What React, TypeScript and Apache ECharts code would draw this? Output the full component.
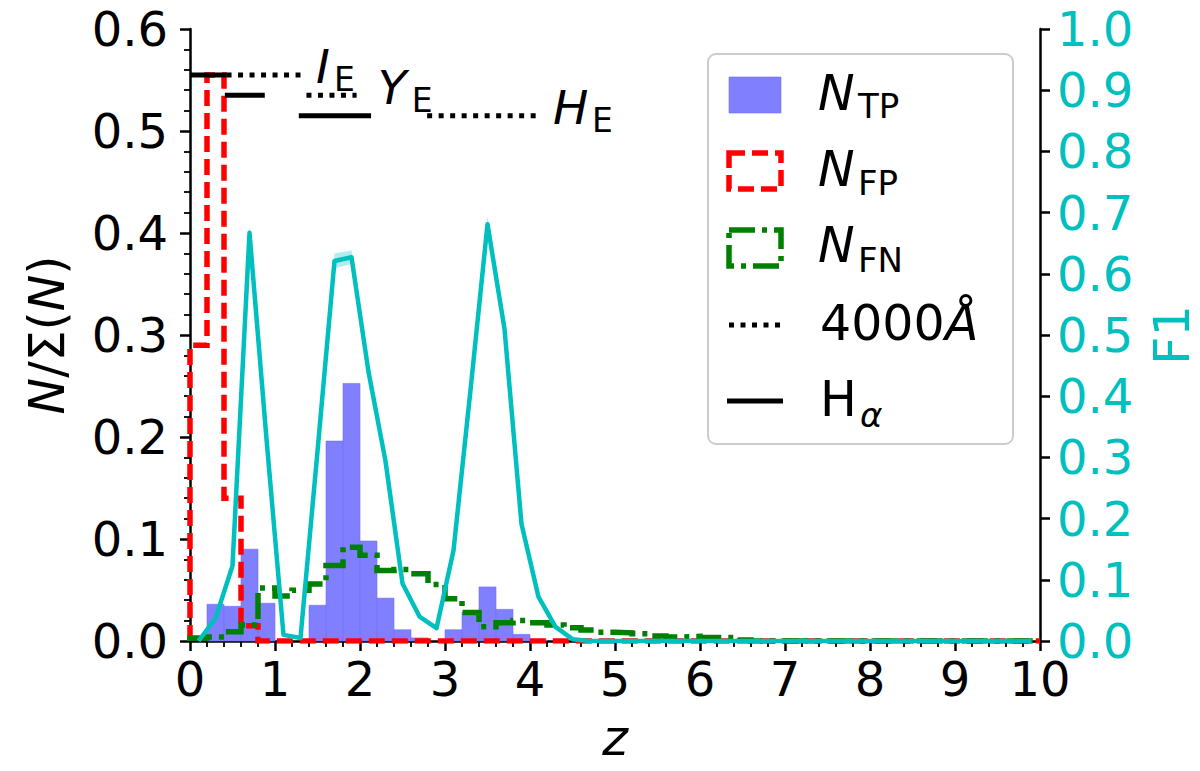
import React, { useEffect, useRef } from "react";
import * as echarts from "echarts";

const FONT = '"DejaVu Sans", sans-serif';

// histogram bins of width 0.2 in z, from 0 to 10
const BIN_WIDTH = 0.2;

const nTP = [
  0, 0.036, 0.034, 0.09, 0.037, 0, 0, 0.035, 0.196, 0.2525,
  0.098, 0.042, 0.011, 0.003, 0, 0.011, 0.028, 0.053, 0.031, 0.0065,
  0.001, 0, 0, 0, 0, 0, 0, 0, 0, 0,
  0, 0, 0, 0, 0, 0, 0, 0, 0, 0,
  0, 0, 0, 0, 0, 0, 0, 0, 0, 0,
];

const nFP = [
  0.29, 0.555, 0.14, 0.015, 0, 0, 0, 0, 0, 0,
  0, 0, 0, 0, 0, 0, 0, 0, 0, 0,
  0, 0, 0, 0, 0, 0, 0, 0, 0, 0,
  0, 0, 0, 0, 0, 0, 0, 0, 0, 0,
  0, 0, 0, 0, 0, 0, 0, 0, 0, 0,
];

const nFN = [
  0.003, 0.004, 0.009, 0.0156, 0.052, 0.044, 0.0497, 0.056, 0.074, 0.092,
  0.084, 0.069, 0.07, 0.066, 0.0555, 0.0415, 0.028, 0.014, 0.018, 0.02,
  0.018, 0.0156, 0.013, 0.0107, 0.0085, 0.008, 0.007, 0.005, 0.004, 0.0045,
  0.0035, 0.0035, 0.001, 0, 0, 0, 0, 0, 0, 0,
  0, 0, 0, 0, 0, 0, 0, 0, 0, 0,
];

// F1 score at bin centres (right axis)
const f1Score = [
  0, 0.037, 0.123, 0.667, 0.33, 0.01, 0.005, 0.31, 0.621, 0.627,
  0.44, 0.294, 0.094, 0.04, 0.021, 0.148, 0.41, 0.681, 0.51, 0.191,
  0.072, 0.023, 0.003, 0, 0, 0, 0, 0, 0, 0,
  0, 0, 0, 0, 0, 0, 0, 0, 0, 0,
  0, 0, 0, 0, 0, 0, 0, 0, 0, 0,
];
const f1Err = [
  0.002, 0.003, 0.004, 0.013, 0.006, 0.002, 0.002, 0.006, 0.012, 0.011,
  0.006, 0.005, 0.003, 0.002, 0.002, 0.004, 0.007, 0.013, 0.007, 0.004,
  0.002, 0.001, 0.001, 0, 0, 0, 0, 0, 0, 0,
  0, 0, 0, 0, 0, 0, 0, 0, 0, 0,
  0, 0, 0, 0, 0, 0, 0, 0, 0, 0,
];

// Euclid bands: redshift ranges of H-alpha and of the 4000 Å break
const bandLabels = ["I", "Y", "H"];
const lineLevel = [0.555, 0.535, 0.515];
const haStart = [0.0, 0.41, 1.28];
const haEnd = [0.43, 0.88, 2.13];
const d4kStart = [0.43, 1.37, 2.79];
const d4kEnd = [1.3, 1.96, 4.08];
const labelZ = [1.482, 2.21, 4.27];

const xTicks = [0, 1, 2, 3, 4, 5, 6, 7, 8, 9, 10];

const CYAN = "#00bfbf";
const RED_DASH = [16, 7];
const GREEN_DASH = [26, 7, 5, 7];
const DOT_DASH = [5, 6.5];

function stepPoints(vals: number[]) {
  const pts: number[][] = [[0, 0]];
  vals.forEach((v, i) => {
    pts.push([+(i * BIN_WIDTH).toFixed(2), v]);
    pts.push([+((i + 1) * BIN_WIDTH).toFixed(2), v]);
  });
  pts.push([+(vals.length * BIN_WIDTH).toFixed(2), 0]);
  return pts;
}

function txt(
  text: string,
  x: number,
  y: number,
  size: number,
  italic: boolean,
  fill = "#000",
  align = "left",
  extra: any = {}
) {
  return {
    type: "text",
    x,
    y,
    z: 100,
    ...extra,
    style: {
      text,
      fontSize: size,
      fontFamily: FONT,
      fontStyle: italic ? "italic" : "normal",
      fill,
      align,
      verticalAlign: "middle",
      textAlign: align,
      textVerticalAlign: "middle",
    },
  };
}

export default function App() {
  const ref = useRef<HTMLDivElement>(null);

  useEffect(() => {
    if (!ref.current) return;
    const chart = echarts.init(ref.current, null, { renderer: "svg" });

    const tpData = nTP
      .map((v, i) => [+(i * BIN_WIDTH).toFixed(2), +((i + 1) * BIN_WIDTH).toFixed(2), v])
      .filter((d) => d[2] > 0);
    const f1Data = f1Score.map((v, i) => [+((i + 0.5) * BIN_WIDTH).toFixed(2), v]);
    const haData = haStart.map((s, i) => [s, haEnd[i], lineLevel[i], 0]);
    const d4kData = d4kStart.map((s, i) => [s, d4kEnd[i], lineLevel[i], 1]);
    const labelData = labelZ.map((z, i) => [z, lineLevel[i], i]);
    const subOffset = [18, 34, 39];

    const axisCommon = {
      axisLine: { show: true, onZero: false, lineStyle: { color: "#000", width: 2.5 } },
      axisTick: { show: true, length: 10, lineStyle: { color: "#000", width: 2.5 } },
      splitLine: { show: false },
    };

    const option: any = {
      animation: false,
      grid: { left: 190, right: 160, top: 29, bottom: 130, outerBoundsMode: "none" },
      xAxis: {
        type: "value",
        min: 0,
        max: 10,
        interval: 1,
        ...axisCommon,
        minorTick: { show: true, splitNumber: 5, length: 6, lineStyle: { color: "#000", width: 1.8 } },
        axisLabel: {
          fontSize: 48,
          lineHeight: 44,
          fontFamily: FONT,
          color: "#000",
          margin: 16,
          formatter: (v: number) => (xTicks.indexOf(v) >= 0 ? String(v) : ""),
        },
      },
      yAxis: [
        {
          type: "value",
          position: "left",
          min: 0,
          max: 0.6,
          interval: 0.1,
          ...axisCommon,
          minorTick: { show: true, splitNumber: 5, length: 6, lineStyle: { color: "#000", width: 1.8 } },
          axisLabel: {
            fontSize: 48,
            lineHeight: 44,
            fontFamily: FONT,
            color: "#000",
            margin: 22,
            formatter: (v: number) => v.toFixed(1),
          },
        },
        {
          type: "value",
          position: "right",
          min: 0,
          max: 1,
          interval: 0.1,
          ...axisCommon,
          minorTick: { show: false },
          axisLabel: {
            fontSize: 48,
            lineHeight: 44,
            fontFamily: FONT,
            color: CYAN,
            margin: 17,
            formatter: (v: number) => v.toFixed(1),
          },
        },
      ],
      series: [
        {
          name: "N_TP",
          type: "custom",
          yAxisIndex: 0,
          z: 2,
          encode: { x: [0, 1], y: 2 },
          data: tpData,
          renderItem: (params: any, api: any) => {
            const p0 = api.coord([api.value(0), api.value(2)]);
            const p1 = api.coord([api.value(1), 0]);
            return {
              type: "rect",
              shape: { x: p0[0], y: p0[1], width: p1[0] - p0[0], height: p1[1] - p0[1] },
              style: { fill: "#8080ff", stroke: "rgba(110,110,255,0.6)", lineWidth: 1 },
            };
          },
        },
        {
          name: "N_FP",
          type: "line",
          yAxisIndex: 0,
          z: 3,
          symbol: "none",
          data: stepPoints(nFP),
          lineStyle: { color: "#ff0000", width: 5.5, type: RED_DASH, cap: "butt", join: "miter" },
        },
        {
          name: "N_FN",
          type: "line",
          yAxisIndex: 0,
          z: 4,
          symbol: "none",
          data: stepPoints(nFN),
          lineStyle: { color: "#008000", width: 5.5, type: GREEN_DASH, cap: "butt", join: "miter" },
        },
        {
          name: "lines",
          type: "custom",
          yAxisIndex: 0,
          z: 5,
          clip: false,
          encode: { x: [0, 1], y: 2 },
          data: [...haData, ...d4kData],
          renderItem: (params: any, api: any) => {
            const p0 = api.coord([api.value(0), api.value(2)]);
            const p1 = api.coord([api.value(1), api.value(2)]);
            const dotted = api.value(3) === 1;
            return {
              type: "line",
              shape: { x1: p0[0], y1: p0[1], x2: p1[0], y2: p1[1] },
              style: {
                stroke: "#000",
                lineWidth: 5,
                lineDash: dotted ? DOT_DASH : null,
                lineCap: "butt",
              },
            };
          },
        },
        {
          name: "labels",
          type: "custom",
          yAxisIndex: 0,
          z: 6,
          clip: false,
          encode: { x: 0, y: 1 },
          data: labelData,
          renderItem: (params: any, api: any) => {
            const i = api.value(2);
            const p = api.coord([api.value(0), api.value(1)]);
            return {
              type: "group",
              children: [
                {
                  type: "text",
                  x: p[0],
                  y: p[1] - 8,
                  style: {
                    text: bandLabels[i],
                    fontSize: 47,
                    fontFamily: FONT,
                    fontStyle: "italic",
                    fill: "#000",
                    align: "left",
                    verticalAlign: "middle",
                    textAlign: "left",
                    textVerticalAlign: "middle",
                  },
                },
                {
                  type: "text",
                  x: p[0] + subOffset[i],
                  y: p[1] + 5,
                  style: {
                    text: "E",
                    fontSize: 33,
                    fontFamily: FONT,
                    fill: "#000",
                    align: "left",
                    verticalAlign: "middle",
                    textAlign: "left",
                    textVerticalAlign: "middle",
                  },
                },
              ],
            };
          },
        },
        {
          name: "F1 band",
          type: "custom",
          yAxisIndex: 1,
          z: 8,
          encode: { x: 0, y: 1 },
          data: [[0, 0]],
          renderItem: (params: any, api: any) => {
            const pts: number[][] = [];
            f1Score.forEach((v, i) => pts.push(api.coord([(i + 0.5) * BIN_WIDTH, v + f1Err[i]])));
            for (let i = f1Score.length - 1; i >= 0; i--) {
              pts.push(api.coord([(i + 0.5) * BIN_WIDTH, Math.max(0, f1Score[i] - f1Err[i])]));
            }
            return {
              type: "polygon",
              shape: { points: pts },
              style: { fill: "rgba(0,191,191,0.3)" },
            };
          },
        },
        {
          name: "F1",
          type: "line",
          yAxisIndex: 1,
          z: 9,
          symbol: "none",
          data: f1Data,
          lineStyle: { color: CYAN, width: 4.5, join: "round" },
        },
      ],
      graphic: [
        {
          type: "group",
          z: 100,
          children: [
            {
              type: "rect",
              z: 100,
              shape: { x: 708, y: 54, width: 305, height: 390, r: 8 },
              style: { fill: "rgba(255,255,255,0.8)", stroke: "#cccccc", lineWidth: 2 },
            },
            {
              type: "rect",
              z: 101,
              shape: { x: 729, y: 77, width: 52, height: 36 },
              style: { fill: "#8080ff", stroke: "rgba(110,110,255,0.6)", lineWidth: 1 },
            },
            {
              type: "rect",
              z: 101,
              shape: { x: 729, y: 153, width: 52, height: 36 },
              style: { fill: "none", stroke: "#ff0000", lineWidth: 5.5, lineDash: RED_DASH },
            },
            {
              type: "rect",
              z: 101,
              shape: { x: 729, y: 230, width: 52, height: 36 },
              style: { fill: "none", stroke: "#008000", lineWidth: 5.5, lineDash: GREEN_DASH },
            },
            {
              type: "line",
              z: 101,
              shape: { x1: 729, y1: 325, x2: 783, y2: 325 },
              style: { stroke: "#000", lineWidth: 5, lineDash: DOT_DASH },
            },
            {
              type: "line",
              z: 101,
              shape: { x1: 727, y1: 401, x2: 783, y2: 401 },
              style: { stroke: "#000", lineWidth: 5 },
            },
            txt("N", 818, 93, 49, true),
            txt("TP", 858, 106, 34, false),
            txt("N", 818, 169, 49, true),
            txt("FP", 858, 183, 34, false),
            txt("N", 818, 245, 49, true),
            txt("FN", 858, 260, 34, false),
            txt("4000", 820, 323, 49, false),
            txt("Å", 945, 323, 49, true),
            txt("H", 820, 399, 49, false),
            txt("α", 860, 415, 34, true),
          ],
        },
        {
          type: "text",
          x: 47,
          y: 335,
          rotation: Math.PI / 2,
          z: 100,
          style: {
            text: "{i|N}{r|/Σ(}{i|N}{r|)}",
            align: "center",
            verticalAlign: "middle",
            textAlign: "center",
            textVerticalAlign: "middle",
            fill: "#000",
            rich: {
              i: { fontSize: 49, fontFamily: FONT, fontStyle: "italic", fill: "#000" },
              r: { fontSize: 49, fontFamily: FONT, fill: "#000" },
            },
          },
        },
        txt("F1", 1172, 335, 49, false, CYAN, "center", { rotation: Math.PI / 2 }),
        txt("z", 615, 738, 49, true, "#000", "center"),
      ],
    };

    chart.setOption(option);
    return () => chart.dispose();
  }, []);

  return (
    <div
      ref={ref}
      style={{ position: "fixed", left: 0, top: 0, width: 1200, height: 771, background: "#fff" }}
    />
  );
}
